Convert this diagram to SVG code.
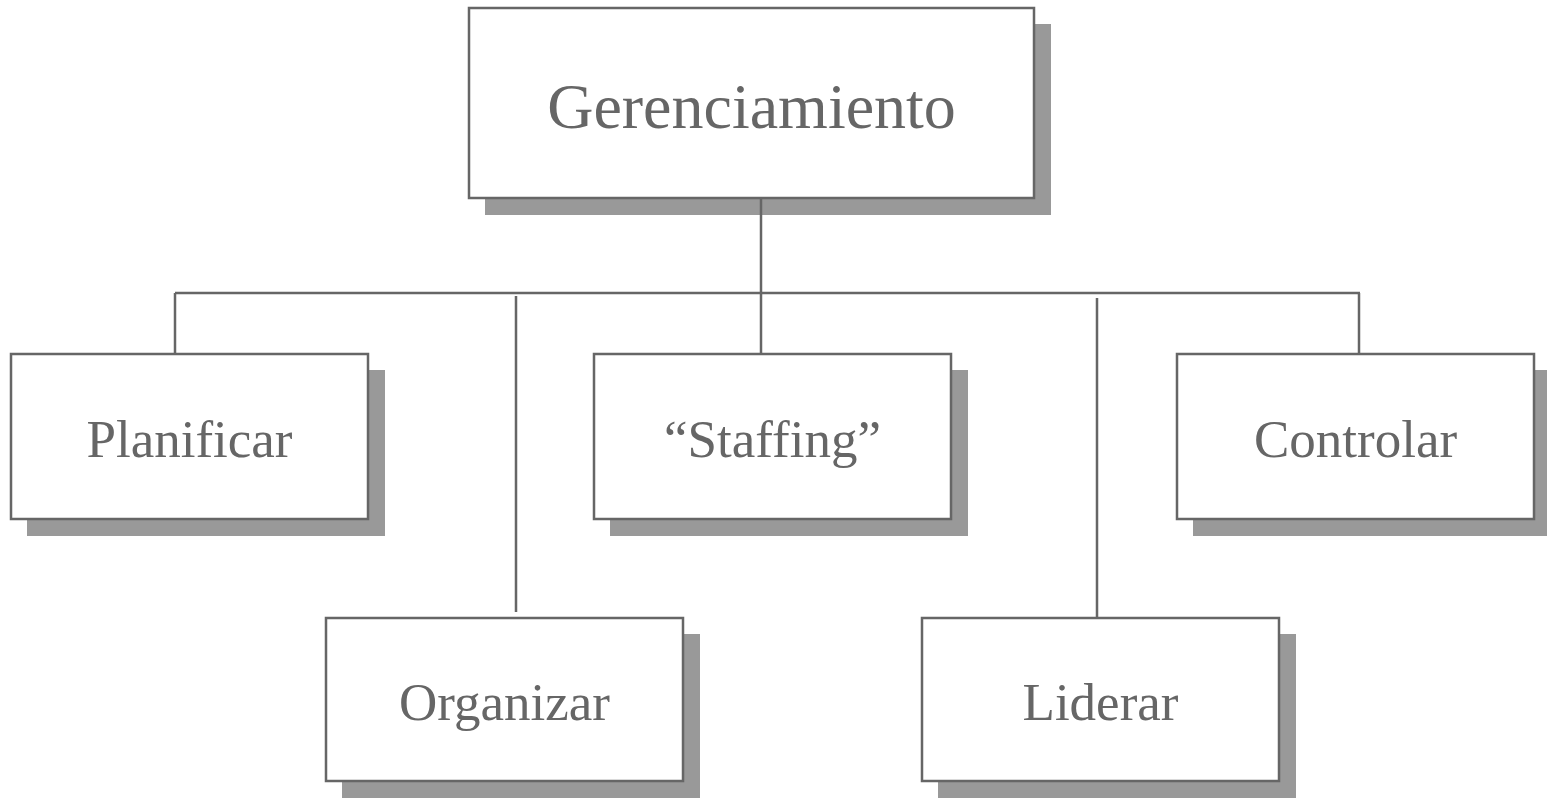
<svg xmlns="http://www.w3.org/2000/svg" width="1547" height="798" viewBox="0 0 1547 798">
<style>
.shadow{fill:#999999;stroke:none}
.box{fill:#ffffff;stroke:#666666;stroke-width:2.5}
.lbl{font-family:"Liberation Serif","Times New Roman",serif;fill:#666666;text-anchor:middle}
.conn{stroke:#666666;stroke-width:2.5;fill:none}
</style>
<rect width="1547" height="798" fill="#ffffff"/>
<g id="gerenciamiento">
<rect class="shadow" x="485" y="24" width="566" height="191"/>
<rect class="box" x="469" y="8" width="565" height="190"/>
<text class="lbl" x="751.5" y="128" font-size="64">Gerenciamiento</text>
</g>
<g id="planificar">
<rect class="shadow" x="27" y="370" width="358" height="166"/>
<rect class="box" x="11" y="354" width="357" height="165"/>
<text class="lbl" x="189.5" y="457" font-size="53">Planificar</text>
</g>
<g id="staffing">
<rect class="shadow" x="610" y="370" width="358" height="166"/>
<rect class="box" x="594" y="354" width="357" height="165"/>
<text class="lbl" x="772.5" y="457" font-size="53">“Staffing”</text>
</g>
<g id="controlar">
<rect class="shadow" x="1193" y="370" width="358" height="166"/>
<rect class="box" x="1177" y="354" width="357" height="165"/>
<text class="lbl" x="1355.5" y="457" font-size="53">Controlar</text>
</g>
<g id="organizar">
<rect class="shadow" x="342" y="634" width="358" height="166"/>
<rect class="box" x="326" y="618" width="357" height="163"/>
<text class="lbl" x="504.5" y="720" font-size="53">Organizar</text>
</g>
<g id="liderar">
<rect class="shadow" x="938" y="634" width="358" height="166"/>
<rect class="box" x="922" y="618" width="357" height="163"/>
<text class="lbl" x="1100.5" y="720" font-size="53">Liderar</text>
</g>
<g id="connectors">
<line class="conn" x1="761" y1="198" x2="761" y2="354"/>
<line class="conn" x1="175" y1="293" x2="1360" y2="293"/>
<line class="conn" x1="175" y1="293" x2="175" y2="354"/>
<line class="conn" x1="1359" y1="293" x2="1359" y2="354"/>
<line class="conn" x1="516" y1="296" x2="516" y2="612"/>
<line class="conn" x1="1097" y1="298" x2="1097" y2="617"/>
</g>
</svg>
